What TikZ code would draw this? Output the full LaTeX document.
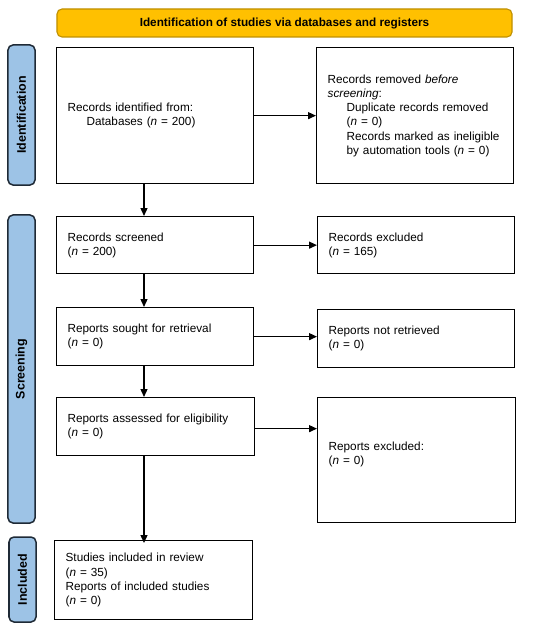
\documentclass[tikz,border=0pt]{standalone}
\usepackage{fontspec}
\setmainfont{Liberation Sans}
\usetikzlibrary{arrows.meta}
\definecolor{bannerfill}{HTML}{FFC000}
\definecolor{bannerline}{HTML}{BF9000}
\definecolor{sidefill}{HTML}{9DC3E6}
\definecolor{sideline}{HTML}{1F2A36}
\tikzset{
  box/.style={draw=black, line width=1.3bp, inner ysep=0bp, inner xsep=11bp,
    align=left, anchor=north west, font=\fontsize{11.8}{14.3}\selectfont},
  sidelabel/.style={draw=sideline, fill=sidefill, line width=1.5bp, rounded corners=5bp,
    rotate=90, inner sep=0bp, minimum height=27bp, font=\fontsize{12.5}{14}\selectfont\bfseries},
  banner/.style={draw=bannerline, fill=bannerfill, line width=1.1bp, rounded corners=5bp,
    inner sep=0bp, font=\fontsize{11.8}{14}\selectfont\bfseries},
  arr/.style={line width=1.3bp, -{Triangle[length=8bp,width=7bp]}}
}
\begin{document}
\begin{tikzpicture}[x=1bp,y=-1bp]
\useasboundingbox (0,0) rectangle (550,626);
\node[banner, minimum width=455bp, minimum height=28bp] (ban) at (284.5,23) {Identification of studies via databases and registers};
\node[sidelabel, minimum width=140bp] (sid) at (21.5,115) {Identification};
\node[sidelabel, minimum width=308bp] (sscr) at (21.5,369) {Screening};
\node[sidelabel, minimum width=85bp] (sinc) at (22.5,579.5) {Included};

\node[box, minimum width=197bp, minimum height=136bp, text width=175bp] (ident) at (56,47)
  {Records identified from:\\\hspace*{19bp}Databases (\textit{n} = 200)};
\node[box, minimum width=197bp, minimum height=136bp, text width=175bp] (removed) at (316,47)
  {Records removed \textit{before}\\\textit{screening}:\\
   \hspace*{19bp}Duplicate records removed\\
   \hspace*{19bp}(\textit{n} = 0)\\
   \hspace*{19bp}Records marked as ineligible\\
   \hspace*{19bp}by automation tools (\textit{n} = 0)};
\node[box, minimum width=197bp, minimum height=57bp, text width=175bp] (screened) at (56,216)
  {Records screened\\(\textit{n} = 200)};
\node[box, minimum width=197bp, minimum height=57bp, text width=175bp] (excluded) at (317,216)
  {Records excluded\\(\textit{n} = 165)};
\node[box, minimum width=197bp, minimum height=58bp, text width=175bp] (sought) at (56,307)
  {Reports sought for retrieval\\(\textit{n} = 0)};
\node[box, minimum width=197bp, minimum height=58bp, text width=175bp] (notret) at (317,309)
  {Reports not retrieved\\(\textit{n} = 0)};
\node[box, minimum width=198bp, minimum height=58bp, text width=176bp] (assessed) at (56,397)
  {Reports assessed for eligibility\\(\textit{n} = 0)};
\node[box, minimum width=198bp, minimum height=125bp, text width=176bp] (repexcl) at (317,397)
  {Reports excluded:\\(\textit{n} = 0)\\\mbox{}};
\node[box, minimum width=198bp, minimum height=79bp, text width=176bp] (included) at (54,540)
  {Studies included in review\\(\textit{n} = 35)\\Reports of included studies\\(\textit{n} = 0)};

\coordinate (ax) at (144,0);
\draw[arr] (ident.east) -- (removed.west);
\draw[arr] (screened.east) -- (screened.east -| excluded.west);
\draw[arr] (sought.east) -- (sought.east -| notret.west);
\draw[arr] ([yshift=-2bp]assessed.east) -- ([yshift=-2bp]assessed.east -| repexcl.west);
\draw[arr] (ident.south -| ax) -- (screened.north -| ax);
\draw[arr] (screened.south -| ax) -- (sought.north -| ax);
\draw[arr] (sought.south -| ax) -- (assessed.north -| ax);
\draw[arr] (assessed.south -| ax) -- ([yshift=-3bp]included.north -| ax);
\end{tikzpicture}
\end{document}
